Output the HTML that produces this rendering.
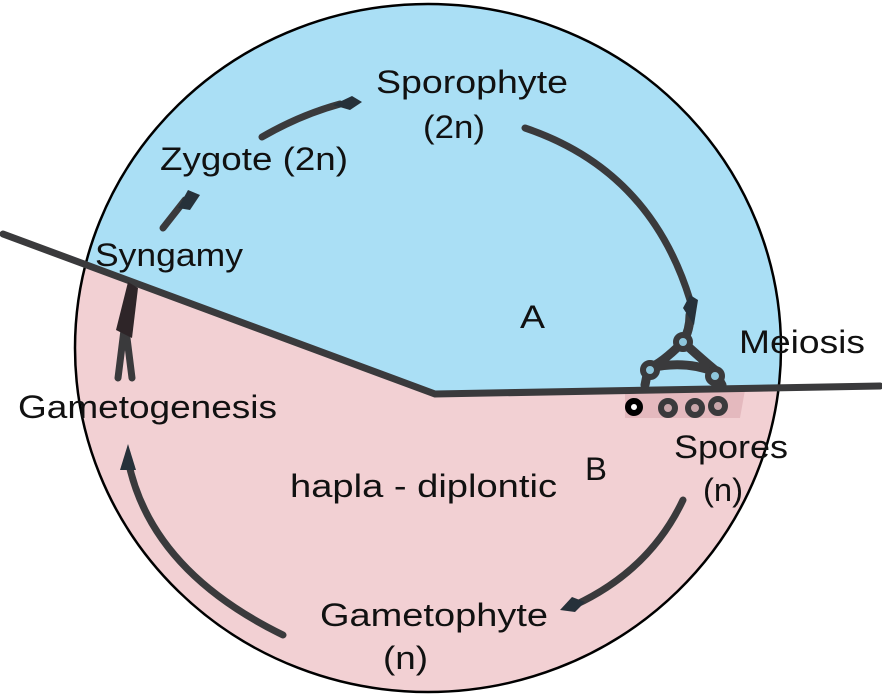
<!DOCTYPE html>
<html><head><style>body{margin:0;background:#fff}svg{display:block}text{font-family:"Liberation Sans",sans-serif;font-size:32px;fill:#111}</style></head>
<body>
<svg width="882" height="696" viewBox="0 0 882 696" xmlns="http://www.w3.org/2000/svg">
<defs><clipPath id="c"><ellipse cx="428" cy="348" rx="353" ry="344"/></clipPath></defs>
<g clip-path="url(#c)">
<rect x="0" y="0" width="882" height="696" fill="#f2d0d3"/>
<polygon points="0,233 435,394 882,386 882,0 0,0" fill="#aadff5"/>
</g>
<ellipse cx="428" cy="348" rx="353" ry="344" fill="none" stroke="#000" stroke-width="2.5"/>
<path d="M625,392 L745,390 L740,418 L625,418 Z" fill="#e4b9be"/>
<polyline points="3,234 435,394 880,386" fill="none" stroke="#3a3a3c" stroke-width="7" stroke-linecap="round"/>
<g fill="none" stroke="#3a3a3c" stroke-width="7" stroke-linecap="round">
<path d="M262,137 Q300,115 340,104"/>
<path d="M163,228 L185,200"/>
<path d="M525,128 Q650,170 690,300"/>
<path d="M683,500 Q650,570 575,605"/>
<path d="M283,635 Q150,570 128,460"/>
<path d="M118,378 L124,330 M132,378 L126,330"/>
<path d="M683,342 Q690,330 690,315 M683,342 Q660,365 648,368 M683,342 Q705,362 715,370 M650,368 Q685,360 715,372" stroke-width="9"/>
<path d="M648,370 L645,385 M715,372 L722,385" stroke-width="9"/>
</g>
<g fill="#26313a">
<path d="M333,105 L352,96 L362,102 L350,110 Z"/>
<path d="M178,208 L188,190 L200,195 L190,210 Z"/>
<path d="M683,308 L690,295 L698,300 L694,325 Z"/>
<path d="M560,610 L572,597 L585,602 L575,612 Z"/>
<path d="M120,470 L128,444 L136,470 Z"/>
<path d="M116,330 L128,282 L138,288 L132,338 Z" fill="#2e2528"/>
</g>
<g fill="#8ec6dc" stroke="#3a3a3c" stroke-width="6">
<circle cx="683" cy="342" r="7"/><circle cx="650" cy="370" r="7"/><circle cx="715" cy="376" r="7"/>
</g>
<g fill="#c9a7ab" stroke="#3a3a3c" stroke-width="6">
<circle cx="634" cy="407" r="6" fill="#fff" stroke="#000"/><circle cx="668" cy="408" r="7"/><circle cx="695" cy="408" r="7"/><circle cx="718" cy="406" r="7"/>
</g>
<text x="376" y="93" textLength="192" lengthAdjust="spacingAndGlyphs">Sporophyte</text>
<text x="423" y="138" textLength="62" lengthAdjust="spacingAndGlyphs">(2n)</text>
<text x="160" y="170" textLength="188" lengthAdjust="spacingAndGlyphs">Zygote (2n)</text>
<text x="95" y="266" textLength="148" lengthAdjust="spacingAndGlyphs">Syngamy</text>
<text x="520" y="328" textLength="25" lengthAdjust="spacingAndGlyphs">A</text>
<text x="739" y="353" textLength="126" lengthAdjust="spacingAndGlyphs">Meiosis</text>
<text x="18" y="418" textLength="259" lengthAdjust="spacingAndGlyphs">Gametogenesis</text>
<text x="674" y="458" textLength="114" lengthAdjust="spacingAndGlyphs">Spores</text>
<text x="703" y="501" textLength="40" lengthAdjust="spacingAndGlyphs">(n)</text>
<text x="585" y="480" textLength="22" lengthAdjust="spacingAndGlyphs">B</text>
<text x="290" y="497" textLength="267" lengthAdjust="spacingAndGlyphs">hapla - diplontic</text>
<text x="320" y="626" textLength="228" lengthAdjust="spacingAndGlyphs">Gametophyte</text>
<text x="383" y="669" textLength="45" lengthAdjust="spacingAndGlyphs">(n)</text>
</svg>
</body></html>
